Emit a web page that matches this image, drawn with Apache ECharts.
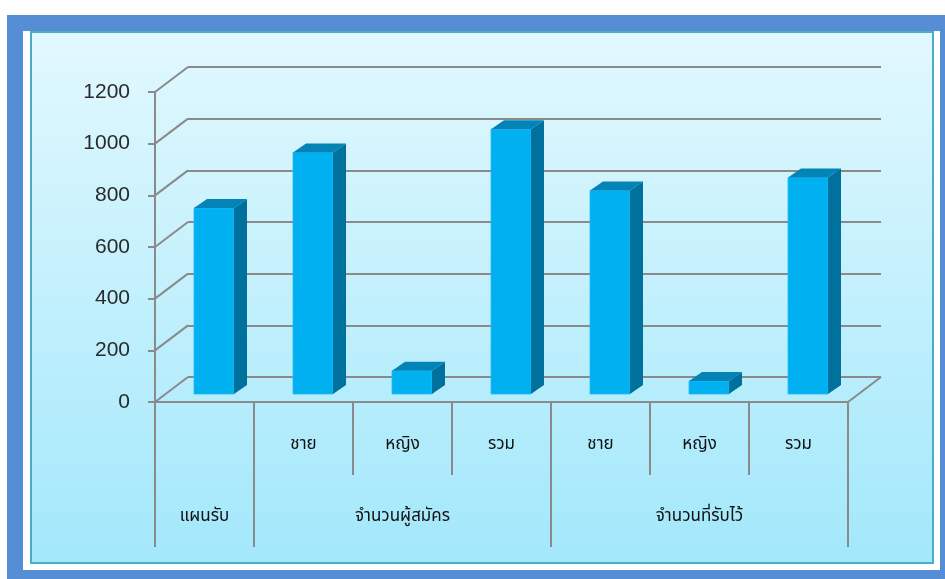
<!DOCTYPE html>
<html>
<head>
<meta charset="utf-8">
<script src="https://cdn.jsdelivr.net/npm/echarts@6/dist/echarts.min.js"></script>
<style>
html,body{margin:0;padding:0;background:#fff;}
#c{width:945px;height:579px;}
</style>
</head>
<body>
<div id="c"></div>
<script>
// ---- data ----
const subLabels = ['', 'ชาย', 'หญิง', 'รวม', 'ชาย', 'หญิง', 'รวม'];
const groupNames = ['แผนรับ', 'จำนวนผู้สมัคร', 'จำนวนที่รับไว้'];
const groupSizes = [1, 3, 3];
const values = [720, 935, 90, 1025, 788, 50, 838];
const yTicks = [0, 200, 400, 600, 800, 1000, 1200];

// ---- derived ----
const n = values.length;
const catKeys = values.map((_, i) => String(i));
const groupLabelAt = new Array(n).fill('');
const boundaries = [0];
let start = 0;
groupSizes.forEach((s, g) => {
  groupLabelAt[start + Math.floor(s / 2)] = groupNames[g];
  start += s;
  boundaries.push(start);
});

// ---- style constants ----
const FRONT = '#00B0F0', TOP = '#0483B6', SIDE = '#00709C';
const GRID_COLOR = '#8A8A8A';
const DEPTH_X = 33, DEPTH_Y = 25;        // back wall offset
const BAR_OFF_X = 9.5, BAR_OFF_Y = 8;    // bar front face depth
const BAR_DX = 13, BAR_DY = 9;           // bar thickness
const THAI = "'Noto Sans Thai','Noto Sans Thai Looped','Tahoma','DejaVu Sans',sans-serif";

const chart = echarts.init(document.getElementById('c'));

function bandInfo(api) {
  return api.size([1, 0])[0];
}

const option = {
  animation: false,
  graphic: [
    { type: 'rect', z: -10, shape: { x: 7, y: 15, width: 938, height: 564 }, style: { fill: '#558ED5' } },
    { type: 'rect', z: -9, shape: { x: 23, y: 31, width: 917, height: 539 }, style: { fill: '#FFFFFF' } },
    { type: 'rect', z: -8, shape: { x: 31, y: 32, width: 902, height: 531 },
      style: {
        fill: new echarts.graphic.LinearGradient(0, 0, 0, 1, [
          { offset: 0, color: '#E2F8FE' },
          { offset: 1, color: '#A2E8FB' }
        ]),
        stroke: '#4BACC6', lineWidth: 2
      } }
  ],
  grid: [
    { left: 155, top: 92, width: 693, height: 310, outerBoundsMode: 'none' },
    { left: 155 + DEPTH_X, top: 92 - DEPTH_Y, width: 693, height: 310, outerBoundsMode: 'none' }
  ],
  xAxis: [
    {
      type: 'category', gridIndex: 0, data: catKeys, position: 'bottom',
      axisLine: { show: true, lineStyle: { color: GRID_COLOR, width: 2 } },
      axisTick: { show: true, length: 73, interval: 0, lineStyle: { color: GRID_COLOR, width: 2 } },
      axisLabel: { interval: 0, margin: 35, formatter: (v, i) => subLabels[i],
        fontFamily: THAI, fontSize: 17, color: '#111' },
      splitLine: { show: false }
    },
    {
      type: 'category', gridIndex: 0, data: catKeys, position: 'bottom', offset: 0,
      axisLine: { show: false }, axisTick: { show: false },
      axisLabel: { interval: 0, margin: 107, formatter: (v, i) => groupLabelAt[i],
        fontFamily: THAI, fontSize: 17, color: '#111' },
      splitLine: { show: false }
    },
    {
      type: 'category', gridIndex: 1, data: catKeys, show: false
    }
  ],
  yAxis: [
    {
      type: 'value', gridIndex: 0, min: 0, max: 1200, interval: 200,
      axisLine: { show: true, lineStyle: { color: GRID_COLOR, width: 2 } },
      axisTick: { show: true, length: 7, lineStyle: { color: GRID_COLOR, width: 2 } },
      axisLabel: { margin: 25, fontFamily: 'Liberation Sans', fontSize: 21, color: '#2a2a2a',
        formatter: v => String(v), padding: [3, 0, 0, 0] },
      splitLine: { show: false }
    },
    {
      type: 'value', gridIndex: 1, min: 0, max: 1200, interval: 200,
      axisLine: { show: false }, axisTick: { show: false }, axisLabel: { show: false },
      splitLine: { show: true, lineStyle: { color: GRID_COLOR, width: 2 } }
    }
  ],
  series: [
    {
      // diagonal connectors from front axis to back wall
      type: 'custom', xAxisIndex: 0, yAxisIndex: 0, clip: false, silent: true, z: 1,
      data: yTicks.map(v => [0, v]),
      encode: { x: 0, y: 1 },
      renderItem: function (params, api) {
        const band = bandInfo(api);
        const p = api.coord([0, api.value(1)]);
        const xl = p[0] - band / 2;
        const children = [{
          type: 'line', shape: { x1: xl, y1: p[1], x2: xl + DEPTH_X, y2: p[1] - DEPTH_Y },
          style: { stroke: GRID_COLOR, lineWidth: 2 }
        }];
        if (api.value(1) === 0) {
          const q = api.coord([n - 1, 0]);
          const xr = q[0] + band / 2;
          children.push({
            type: 'line', shape: { x1: xr, y1: q[1], x2: xr + DEPTH_X, y2: q[1] - DEPTH_Y },
            style: { stroke: GRID_COLOR, lineWidth: 2 }
          });
        }
        return { type: 'group', children: children };
      }
    },
    {
      // long separators at group boundaries
      type: 'custom', xAxisIndex: 0, yAxisIndex: 0, clip: false, silent: true, z: 1,
      data: boundaries.map(b => [b, 0]),
      encode: { x: 0, y: 1 },
      renderItem: function (params, api) {
        const band = bandInfo(api);
        const b = api.value(0);
        let x;
        if (b < n) x = api.coord([b, 0])[0] - band / 2;
        else x = api.coord([n - 1, 0])[0] + band / 2;
        const y = api.coord([0, 0])[1];
        return { type: 'line', shape: { x1: x, y1: y, x2: x, y2: y + 145 },
          style: { stroke: GRID_COLOR, lineWidth: 2 } };
      }
    },
    {
      // 3D bars
      type: 'custom', xAxisIndex: 0, yAxisIndex: 0, clip: false, z: 3,
      data: values.map((v, i) => [i, v]),
      encode: { x: 0, y: 1 },
      renderItem: function (params, api) {
        const idx = api.value(0), v = api.value(1);
        const base = api.coord([idx, 0]);
        const top = api.coord([idx, v]);
        const band = bandInfo(api);
        const w = band * 0.404;
        const x0 = base[0] + BAR_OFF_X - w / 2, x1 = x0 + w;
        const yb = base[1] - BAR_OFF_Y, yt = top[1] - BAR_OFF_Y;
        return {
          type: 'group',
          children: [
            { type: 'rect', shape: { x: x0, y: yt, width: w, height: yb - yt },
              style: { fill: FRONT, stroke: '#22BDF3', lineWidth: 0.8 } },
            { type: 'polygon', shape: { points: [[x1, yt], [x1 + BAR_DX, yt - BAR_DY], [x1 + BAR_DX, yb - BAR_DY], [x1, yb]] },
              style: { fill: SIDE } },
            { type: 'polygon', shape: { points: [[x0, yt], [x1, yt], [x1 + BAR_DX, yt - BAR_DY], [x0 + BAR_DX, yt - BAR_DY]] },
              style: { fill: TOP } }
          ]
        };
      }
    }
  ]
};
chart.setOption(option);
</script>
</body>
</html>
